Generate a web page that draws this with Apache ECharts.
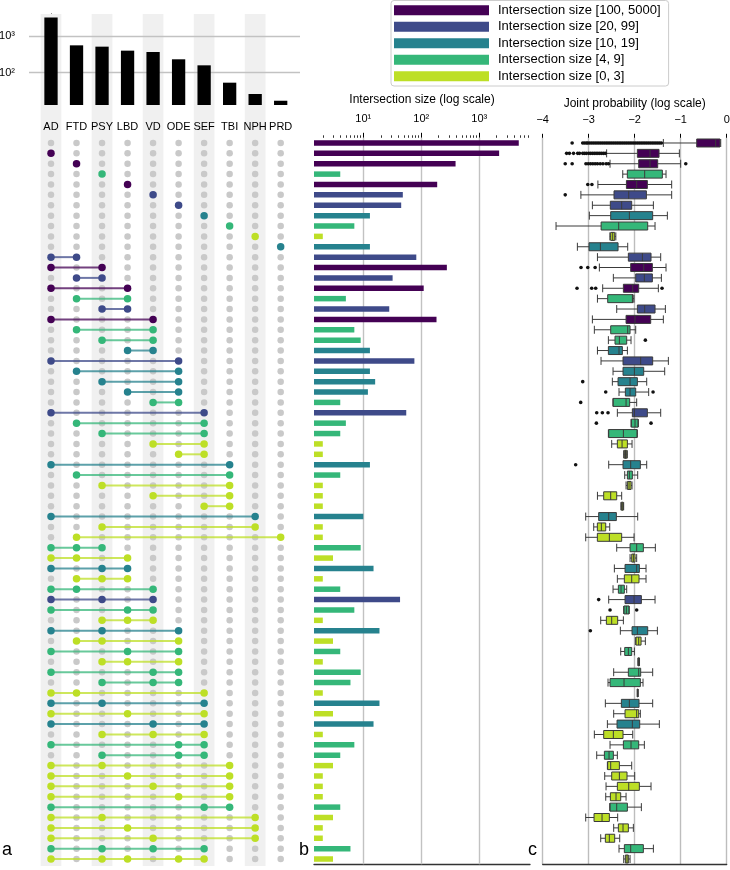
<!DOCTYPE html>
<html><head><meta charset="utf-8">
<script src="https://cdn.jsdelivr.net/npm/echarts@6/dist/echarts.min.js"></script>
<style>html,body{margin:0;padding:0;background:#fff}#c{width:730px;height:870px}</style>
</head><body><div id="c"></div>
<script>
const FONT = '"Liberation Sans", Arial, sans-serif';

// ---------- data ----------
const sets = ['AD','FTD','PSY','LBD','VD','ODE','SEF','TBI','NPH','PRD'];
const setSizes = [3230, 556, 512, 398, 366, 231, 158, 53, 26, 17];
const setTickValues = [100, 1000];
const setMinorTicks = [20,30,40,50,60,70,80,90,200,300,400,500,600,700,800,900,2000,3000];

const combos = [
 [], ['AD'], ['FTD'], ['PSY'], ['LBD'], ['VD'], ['ODE'], ['SEF'], ['TBI'], ['NPH'], ['PRD'],
 ['AD','FTD'], ['AD','PSY'], ['FTD','PSY'], ['AD','LBD'], ['FTD','LBD'], ['PSY','LBD'],
 ['AD','VD'], ['FTD','VD'], ['PSY','VD'], ['LBD','VD'],
 ['AD','ODE'], ['FTD','ODE'], ['PSY','ODE'], ['LBD','ODE'], ['VD','ODE'],
 ['AD','SEF'], ['FTD','SEF'], ['PSY','SEF'], ['VD','SEF'], ['ODE','SEF'],
 ['AD','TBI'], ['FTD','TBI'], ['PSY','TBI'], ['VD','TBI'], ['SEF','TBI'],
 ['AD','NPH'], ['PSY','NPH'], ['FTD','PRD'],
 ['AD','FTD','PSY'], ['AD','FTD','LBD'], ['AD','PSY','LBD'], ['FTD','PSY','LBD'],
 ['AD','FTD','VD'], ['AD','PSY','VD'], ['AD','LBD','VD'], ['PSY','LBD','VD'],
 ['AD','PSY','ODE'], ['FTD','PSY','ODE'], ['AD','LBD','ODE'], ['PSY','LBD','ODE'],
 ['AD','VD','ODE'], ['PSY','VD','ODE'],
 ['AD','FTD','SEF'], ['AD','PSY','SEF'], ['AD','LBD','SEF'], ['AD','VD','SEF'], ['PSY','VD','SEF'],
 ['AD','ODE','SEF'], ['PSY','ODE','SEF'],
 ['AD','PSY','TBI'], ['AD','LBD','TBI'], ['AD','VD','TBI'], ['AD','ODE','TBI'], ['AD','SEF','TBI'],
 ['AD','PSY','NPH'], ['AD','LBD','NPH'], ['AD','VD','NPH'],
 ['AD','PSY','VD','SEF'], ['AD','PSY','LBD','ODE','SEF']
];

const intersectionSizes = [
 4800, 2200, 390, 4, 188, 48, 45, 13, 7, 2,
 13, 82, 276, 32, 110, 5, 28, 183, 7, 9,
 13, 76, 13, 16, 12, 4, 55, 5, 4, 2,
 2, 13, 4, 2, 2, 2, 10, 2, 2, 9,
 3, 15, 2, 4, 43, 7, 2, 19, 3, 4,
 2, 9, 6, 2, 19, 3, 15, 2, 7, 4,
 3, 2, 2, 2, 4, 3, 2, 2, 6, 3
];
const sizeTickValues = [10, 100, 1000];
const sizeMinorTicks = [2,3,4,5,6,7,8,9,20,30,40,50,60,70,80,90,200,300,400,500,600,700,800,900,2000,3000,4000,5000,6000,7000];

const binLabels = ['Intersection size [100, 5000]','Intersection size [20, 99]','Intersection size [10, 19]','Intersection size [4, 9]','Intersection size [0, 3]'];
const binLows = [100, 20, 10, 4, 0];
const binColors = ['#440154','#3e4a89','#26828e','#35b779','#bddf26'];

// joint probability (log10): [lower whisker, Q1, median, Q3, upper whisker]
const jointBox = [
 [-1.377,-0.652,-0.24,-0.145,-0.13],
 [-2.61,-1.942,-1.667,-1.471,-1.029],
 [-2.536,-1.913,-1.667,-1.5,-1.0],
 [-2.26,-2.16,-1.783,-1.399,-1.319],
 [-2.80,-2.18,-1.957,-1.725,-1.196],
 [-3.17,-2.45,-2.13,-1.746,-1.196],
 [-2.92,-2.53,-2.283,-2.065,-1.594],
 [-2.986,-2.522,-2.116,-1.609,-1.29],
 [-3.71,-2.73,-2.348,-1.717,-1.558],
 [-2.54,-2.522,-2.478,-2.435,-2.41],
 [-3.246,-2.993,-2.746,-2.362,-2.152],
 [-2.81,-2.138,-1.833,-1.645,-1.435],
 [-2.768,-2.087,-1.804,-1.616,-1.319],
 [-2.464,-1.978,-1.79,-1.616,-1.42],
 [-2.696,-2.246,-2.043,-1.913,-1.486],
 [-2.81,-2.587,-2.05,-2.036,-2.015],
 [-2.391,-1.942,-1.783,-1.558,-1.333],
 [-2.92,-2.188,-1.993,-1.652,-1.377],
 [-2.877,-2.522,-2.152,-2.101,-1.978],
 [-2.572,-2.428,-2.333,-2.174,-2.08],
 [-2.81,-2.572,-2.341,-2.268,-2.159],
 [-2.732,-2.254,-1.87,-1.609,-1.268],
 [-2.471,-2.254,-2.007,-1.804,-1.348],
 [-2.486,-2.362,-2.101,-1.942,-1.739],
 [-2.341,-2.203,-2.101,-1.978,-1.696],
 [-2.471,-2.471,-2.188,-2.109,-1.957],
 [-2.377,-2.051,-2.007,-1.725,-1.435],
 [-2.08,-2.072,-1.993,-1.928,-1.92],
 [-2.572,-2.565,-2.246,-1.949,-1.942],
 [-2.5,-2.377,-2.275,-2.159,-2.058],
 [-2.24,-2.225,-2.2,-2.174,-2.16],
 [-2.565,-2.254,-2.087,-1.877,-1.739],
 [-2.217,-2.159,-2.116,-2.051,-1.935],
 [-2.188,-2.159,-2.123,-2.08,-2.058],
 [-2.81,-2.674,-2.522,-2.391,-2.283],
 [-2.3,-2.29,-2.27,-2.25,-2.24],
 [-3.065,-2.783,-2.565,-2.399,-1.935],
 [-2.891,-2.812,-2.725,-2.63,-2.543],
 [-3.065,-2.812,-2.551,-2.283,-2.014],
 [-2.391,-2.101,-1.957,-1.812,-1.551],
 [-2.101,-2.065,-2.029,-1.993,-1.957],
 [-2.442,-2.21,-1.957,-1.899,-1.754],
 [-2.377,-2.225,-2.065,-1.906,-1.754],
 [-2.471,-2.355,-2.297,-2.225,-2.174],
 [-2.565,-2.21,-2.014,-1.855,-1.558],
 [-2.24,-2.232,-2.181,-2.123,-2.12],
 [-2.739,-2.616,-2.5,-2.37,-2.246],
 [-2.312,-2.058,-1.942,-1.717,-1.507],
 [-1.986,-1.971,-1.913,-1.862,-1.768],
 [-2.304,-2.217,-2.138,-2.065,-2.007],
 [-1.93,-1.925,-1.913,-1.9,-1.895],
 [-2.457,-2.138,-1.913,-1.87,-1.609],
 [-2.58,-2.536,-2.232,-1.877,-1.819],
 [-1.945,-1.942,-1.935,-1.928,-1.925],
 [-2.638,-2.29,-2.116,-1.906,-1.609],
 [-2.457,-2.21,-1.957,-1.913,-1.877],
 [-2.594,-2.384,-2.051,-1.891,-1.464],
 [-2.877,-2.674,-2.464,-2.254,-2.043],
 [-2.536,-2.246,-2.08,-1.913,-1.79],
 [-2.826,-2.659,-2.558,-2.464,-2.377],
 [-2.594,-2.587,-2.522,-2.333,-2.065],
 [-2.652,-2.5,-2.333,-2.167,-2.0],
 [-2.623,-2.377,-2.13,-1.899,-1.645],
 [-2.63,-2.529,-2.406,-2.304,-2.188],
 [-2.543,-2.536,-2.391,-2.159,-1.855],
 [-3.065,-2.884,-2.71,-2.551,-2.37],
 [-2.457,-2.355,-2.254,-2.138,-2.029],
 [-2.739,-2.638,-2.551,-2.435,-2.326],
 [-2.341,-2.225,-2.087,-1.812,-1.594],
 [-2.239,-2.203,-2.167,-2.138,-2.101]
];

// outliers: [row, [values]]
const jointOutliers = [
 [0, [-3.36,-3.13,-3.09,-3.05,-3.02,-2.98,-2.94,-2.9,-2.86,-2.82,-2.78,-2.74,-2.7,-2.66,-2.62,-2.58,-2.54,-2.5,-2.46,-2.42,-2.38,-2.34,-2.3,-2.26,-2.22,-2.18,-2.14,-2.1,-2.06,-2.02,-1.98,-1.94,-1.9,-1.86,-1.82,-1.78,-1.74,-1.7,-1.66,-1.62,-1.58,-1.54,-1.5,-1.46,-1.42]],
 [1, [-3.48,-3.42,-3.33,-3.24,-3.2,-3.13,-3.09,-3.05,-3.0,-2.96,-2.92,-2.88,-2.84,-2.8,-2.76,-2.72,-2.68,-2.64]],
 [2, [-3.51,-3.36,-3.06,-3.01,-2.96,-2.91,-2.86,-2.81,-2.75,-2.69,-2.62,-2.57,-0.89]],
 [4, [-3.02,-2.93]],
 [5, [-3.51]],
 [12, [-3.167,-3.02,-2.86]],
 [14, [-3.254,-2.935,-2.848,-1.406]],
 [19, [-1.768]],
 [23, [-3.13]],
 [24, [-2.63,-1.601]],
 [25, [-3.174]],
 [26, [-2.826,-2.703,-2.58]],
 [27, [-2.833,-1.645]],
 [31, [-3.283]],
 [44, [-2.783]],
 [45, [-2.536,-1.957]],
 [47, [-2.964]]
];

// ---------- helpers ----------
const nRows = combos.length;
const rowCats = combos.map((c, i) => String(i));
const binOf = v => binLows.findIndex(l => v >= l);
const supDigits = {'0':'\u2070','1':'\u00b9','2':'\u00b2','3':'\u00b3','4':'\u2074'};
const powLabel = v => '10' + String(Math.round(Math.log10(v))).split('').map(d => supDigits[d]).join('');
const minusLabel = v => (v < 0 ? '\u2212' + Math.abs(v) : String(v));

// ---------- layout ----------
const colW = 25.52;
const matLeft = 38.24, matWidth = colW * sets.length;
const rowsTop = 137.8, rowsHeight = 726.4;
const topBarsRect = {left: 29, top: 14, width: 271, height: 91};
const xPadMin = -(matLeft - topBarsRect.left) / colW - 0.5;
const xPadMax = xPadMin + topBarsRect.width / colW;

const base = {outerBoundsMode: 'none', containLabel: false, show: false};
const grids = [
  Object.assign({left: matLeft, width: matWidth, top: 14, height: 852}, base),          // 0 bands
  Object.assign({}, topBarsRect, base),                                                 // 1 top bars
  Object.assign({}, topBarsRect, base),                                                 // 2 top bars minor ticks
  Object.assign({left: matLeft, width: matWidth, top: rowsTop, height: rowsHeight}, base), // 3 matrix
  Object.assign({left: 314, width: 216, top: rowsTop, height: rowsHeight}, base),       // 4 mid bars
  Object.assign({left: 314, width: 216, top: rowsTop, height: rowsHeight}, base),       // 5 mid minor
  Object.assign({left: 542.7, width: 184, top: rowsTop, height: rowsHeight}, base)      // 6 box
];

const txt = {fontFamily: FONT, color: '#000'};
const hidden = {show: false};
const sizeMin = 1.41, sizeMax = 7500;

const xAxes = [
  {gridIndex: 0, type: 'category', data: sets, show: false},
  {gridIndex: 1, type: 'value', min: xPadMin, max: xPadMax, show: false},
  {gridIndex: 2, type: 'value', min: xPadMin, max: xPadMax, show: false},
  {gridIndex: 3, type: 'category', data: sets, position: 'top',
    axisLine: hidden, axisTick: hidden, splitLine: hidden,
    axisLabel: Object.assign({margin: 5, fontSize: 11, interval: 0}, txt)},
  {gridIndex: 4, type: 'log', min: sizeMin, max: sizeMax, position: 'top',
    name: 'Intersection size (log scale)', nameLocation: 'middle', nameGap: 32,
    nameTextStyle: Object.assign({fontSize: 12}, txt),
    axisLine: hidden, splitLine: hidden,
    axisTick: {show: true, length: 5, customValues: sizeTickValues, lineStyle: {color: '#000', width: 1}},
    axisLabel: Object.assign({margin: 13, fontSize: 11, customValues: sizeTickValues, formatter: powLabel}, txt)},
  {gridIndex: 4, type: 'log', min: sizeMin, max: sizeMax, position: 'bottom',
    axisLine: {show: true, lineStyle: {color: '#333', width: 1.3}},
    axisTick: hidden, axisLabel: hidden, splitLine: hidden},
  {gridIndex: 5, type: 'log', min: sizeMin, max: sizeMax, position: 'top',
    axisLine: hidden, splitLine: hidden, axisLabel: hidden,
    axisTick: {show: true, length: 2.5, customValues: sizeMinorTicks, lineStyle: {color: '#000', width: 0.8}}},
  {gridIndex: 6, type: 'value', min: -4, max: 0, interval: 1, position: 'top',
    name: 'Joint probability (log scale)', nameLocation: 'middle', nameGap: 21,
    nameTextStyle: Object.assign({fontSize: 12}, txt),
    axisLine: hidden,
    axisTick: {show: true, length: 4, lineStyle: {color: '#000', width: 1}},
    axisLabel: Object.assign({margin: 12, fontSize: 11, formatter: minusLabel}, txt),
    splitLine: {show: true, lineStyle: {color: '#bdbdbd', width: 1.4}}},
  {gridIndex: 6, type: 'value', min: -4, max: 0, position: 'bottom',
    axisLine: {show: true, lineStyle: {color: '#333', width: 1.3}},
    axisTick: hidden, axisLabel: hidden, splitLine: hidden}
];

const yAxes = [
  {gridIndex: 0, type: 'value', min: 0, max: 1, show: false},
  {gridIndex: 1, type: 'log', min: 13, max: 4000,
    axisLine: {show: true, lineStyle: {color: '#000', width: 1}},
    axisTick: {show: true, length: 5, customValues: setTickValues, lineStyle: {color: '#000'}},
    axisLabel: Object.assign({margin: 14, fontSize: 11, customValues: setTickValues, formatter: powLabel}, txt),
    splitLine: hidden},
  {gridIndex: 2, type: 'log', min: 13, max: 4000,
    axisLine: hidden, axisLabel: hidden, splitLine: hidden,
    axisTick: {show: true, length: 2.5, customValues: setMinorTicks, lineStyle: {color: '#000', width: 0.8}}},
  {gridIndex: 3, type: 'category', data: rowCats, inverse: true, show: false},
  {gridIndex: 4, type: 'category', data: rowCats, inverse: true, show: false},
  {gridIndex: 5, type: 'category', data: rowCats, inverse: true, show: false},
  {gridIndex: 6, type: 'category', data: rowCats, inverse: true, show: false}
];

// ---------- series ----------
const series = [];
const gridLine = {color: '#c2c2c2', width: 1.4, type: 'solid'};

// background bands behind alternate set columns
series.push({type: 'bar', xAxisIndex: 0, yAxisIndex: 0, silent: true, z: 0,
  barWidth: 20.7, itemStyle: {color: '#f0f0f0'},
  data: sets.map((s, i) => (i % 2 === 0 ? 1 : '-'))});

// set size bars
series.push({type: 'bar', xAxisIndex: 1, yAxisIndex: 1, barWidth: 13.3, z: 3, clip: true,
  itemStyle: {color: '#000'},
  data: setSizes.map((v, i) => [i, v]),
  markLine: {silent: true, symbol: 'none', z: 1, label: {show: false}, lineStyle: gridLine,
    data: setTickValues.map(v => ({yAxis: v}))}});

// matrix: grey dots
const greyDots = [];
const memberDots = [];
const connectors = [];
combos.forEach((c, r) => {
  const bin = binOf(intersectionSizes[r]);
  const idx = c.map(s => sets.indexOf(s));
  sets.forEach((s, j) => {
    if (idx.indexOf(j) < 0) greyDots.push([j, r]);
    else memberDots.push({value: [j, r], itemStyle: {color: binColors[bin]}});
  });
  if (idx.length > 1) connectors.push([Math.min(...idx), r, Math.max(...idx), bin]);
});
series.push({type: 'scatter', xAxisIndex: 3, yAxisIndex: 3, symbolSize: 6.5, z: 2, silent: true,
  itemStyle: {color: '#c9c9c9', opacity: 1}, data: greyDots});
series.push({type: 'custom', xAxisIndex: 3, yAxisIndex: 3, z: 3, silent: true,
  encode: {x: [0, 2], y: 1}, data: connectors,
  renderItem: (params, api) => {
    const p0 = api.coord([api.value(0), api.value(1)]);
    const p1 = api.coord([api.value(2), api.value(1)]);
    return {type: 'line', shape: {x1: p0[0], y1: p0[1], x2: p1[0], y2: p1[1]},
      style: {stroke: binColors[api.value(3)], lineWidth: 2, opacity: 0.75}};
  }});
series.push({type: 'scatter', xAxisIndex: 3, yAxisIndex: 3, symbolSize: 7.5, z: 4, silent: true,
  itemStyle: {opacity: 1}, data: memberDots});

// intersection size bars, one series per bin
binLabels.forEach((name, b) => {
  const s = {type: 'bar', name: name, xAxisIndex: 4, yAxisIndex: 4, barWidth: 5.5, barGap: '-100%',
    z: 3, clip: true, itemStyle: {color: binColors[b]},
    data: intersectionSizes.map(v => (binOf(v) === b ? v : '-'))};
  if (b === 0) s.markLine = {silent: true, symbol: 'none', z: 1, label: {show: false}, lineStyle: gridLine,
    data: sizeTickValues.map(v => ({xAxis: v}))};
  series.push(s);
});

// boxplots
series.push({type: 'boxplot', layout: 'horizontal', xAxisIndex: 7, yAxisIndex: 6, boxWidth: [8, 8], z: 3,
  silent: true,
  itemStyle: {borderColor: '#3a3a3a', borderWidth: 1},
  data: jointBox.map((b, i) => ({value: b, itemStyle: {color: binColors[binOf(intersectionSizes[i])]}}))});
const outlierPts = [];
jointOutliers.forEach(([r, vals]) => vals.forEach(v => outlierPts.push([v, r])));
series.push({type: 'scatter', xAxisIndex: 7, yAxisIndex: 6, symbolSize: 3.6, z: 4, silent: true,
  itemStyle: {color: '#111', opacity: 1}, data: outlierPts});

const option = {
  animation: false,
  backgroundColor: '#fff',
  textStyle: {fontFamily: FONT},
  grid: grids,
  xAxis: xAxes,
  yAxis: yAxes,
  legend: {data: binLabels, left: 391, top: 0.5, orient: 'vertical', icon: 'rect',
    itemWidth: 95, itemHeight: 10, itemGap: 3, padding: [3, 8, 3, 3],
    borderColor: '#cccccc', borderWidth: 1, borderRadius: 3, backgroundColor: '#fff',
    selectedMode: false,
    textStyle: {fontSize: 13, fontFamily: FONT, color: '#000', lineHeight: 13.5, padding: [0, 0, 0, 4]}},
  graphic: [
    {type: 'text', left: 2, top: 841, style: {text: 'a', fontSize: 18, fontFamily: FONT, fill: '#000'}},
    {type: 'text', left: 299, top: 841, style: {text: 'b', fontSize: 18, fontFamily: FONT, fill: '#000'}},
    {type: 'text', left: 528, top: 841, style: {text: 'c', fontSize: 18, fontFamily: FONT, fill: '#000'}}
  ],
  series: series
};

const chart = echarts.init(document.getElementById('c'), null, {renderer: 'canvas'});
chart.setOption(option);
</script></body></html>
